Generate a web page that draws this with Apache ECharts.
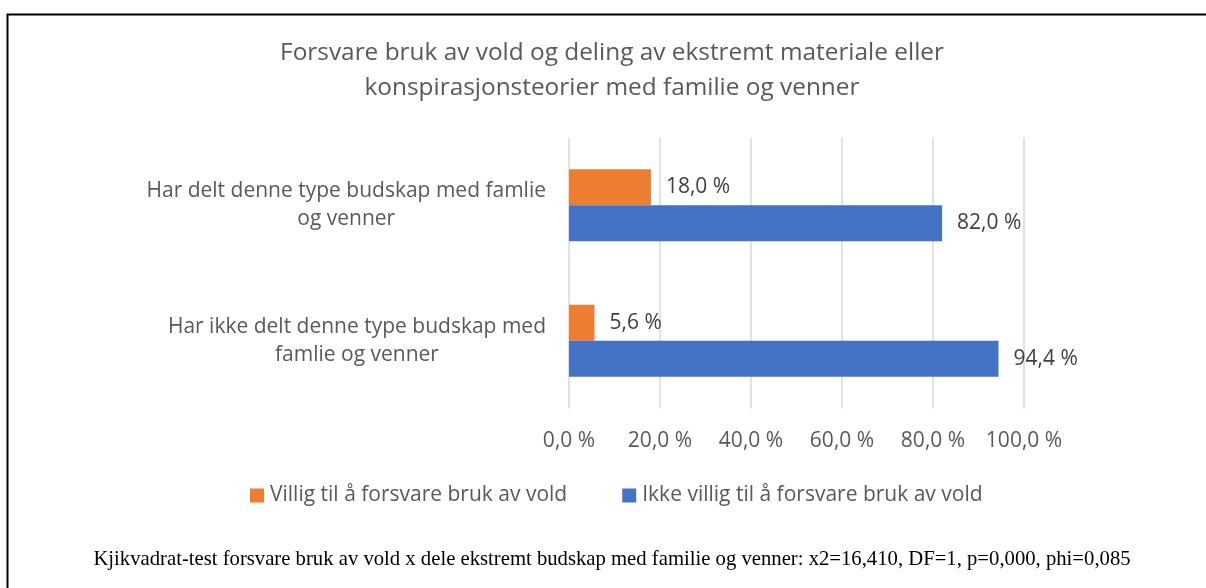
<!DOCTYPE html>
<html>
<head>
<meta charset="utf-8">
<script src="https://cdn.jsdelivr.net/npm/echarts@6/dist/echarts.min.js"></script>
<style>
  html, body { margin: 0; padding: 0; background: #fff; }
  #main { width: 1206px; height: 588px; }
</style>
</head>
<body>
<div id="main"></div>
<script>
// kategorier (linjeskift slik de vises)
const categories = [
  "Har delt denne type budskap med famlie\nog venner",
  "Har ikke delt denne type budskap med\nfamlie og venner"
];
const seriesNames = ["Villig til å forsvare bruk av vold", "Ikke villig til å forsvare bruk av vold"];
const villig = [18.0, 5.6];
const ikkeVillig = [82.0, 94.4];
const xTicks = [0, 20, 40, 60, 80, 100];

const fontSans = "'Open Sans', 'Noto Sans', sans-serif";
const pct = v => v.toFixed(1).replace(".", ",") + " %";

let myChart = echarts.init(document.getElementById("main"));

function barLabel() {
  return {
    show: true,
    position: "right",
    distance: 15,
    fontFamily: fontSans,
    fontSize: 21,
    color: "#404040",
    formatter: p => pct(p.value)
  };
}

let option = {
  backgroundColor: "#fff",
  animation: false,
  title: {
    text: "Forsvare bruk av vold og deling av ekstremt materiale eller\nkonspirasjonsteorier med familie og venner",
    left: 612,
    top: 36,
    padding: 0,
    textAlign: "center",
    textStyle: {
      fontFamily: fontSans,
      fontSize: 24.4,
      fontWeight: "normal",
      color: "#595959",
      lineHeight: 35
    }
  },
  legend: {
    data: seriesNames,
    left: 250,
    top: 485,
    padding: 0,
    itemWidth: 14,
    itemHeight: 14,
    itemGap: 55,
    icon: "rect",
    textStyle: { fontFamily: fontSans, fontSize: 21, color: "#595959", padding: [0, 0, 0, 1] }
  },
  grid: { left: 569, right: 182, top: 137.5, bottom: 179.5 },
  xAxis: {
    type: "value",
    min: 0,
    max: 100,
    interval: 20,
    axisLine: { show: false },
    axisTick: { show: false },
    splitLine: { lineStyle: { color: "#d9d9d9", width: 1.5 } },
    axisLabel: {
      margin: 22,
      fontFamily: fontSans,
      fontSize: 21,
      color: "#595959",
      formatter: v => (xTicks.indexOf(v) >= 0 ? pct(v) : "")
    }
  },
  yAxis: {
    type: "category",
    data: categories,
    inverse: true,
    axisLine: { show: false },
    axisTick: { show: false },
    axisLabel: {
      margin: 23,
      align: "right",
      fontFamily: fontSans,
      fontSize: 21,
      color: "#595959",
      lineHeight: 28,
      formatter: v => v.split("\n").map(s => "{c|" + s + "}").join("\n"),
      rich: {
        c: { align: "center", fontFamily: fontSans, fontSize: 21, color: "#595959", lineHeight: 28 }
      }
    }
  },
  series: [
    {
      name: seriesNames[0],
      type: "bar",
      data: villig,
      barGap: 0,
      barCategoryGap: "47%",
      itemStyle: { color: "#ED7D31" },
      label: barLabel()
    },
    {
      name: seriesNames[1],
      type: "bar",
      data: ikkeVillig,
      barGap: 0,
      barCategoryGap: "47%",
      itemStyle: { color: "#4472C4" },
      label: barLabel()
    }
  ],
  graphic: [
    {
      type: "rect",
      shape: { x: 7.5, y: 14.5, width: 1250, height: 650 },
      style: { fill: "none", stroke: "#000", lineWidth: 2 },
      silent: true
    },
    {
      type: "text",
      x: 612,
      y: 560,
      style: {
        text: "Kjikvadrat-test forsvare bruk av vold x dele ekstremt budskap med familie og venner: x2=16,410, DF=1, p=0,000, phi=0,085",
        fontFamily: "'Liberation Serif', 'DejaVu Serif', serif",
        fontSize: 20.7,
        align: "center",
        verticalAlign: "middle",
        fill: "#000"
      }
    }
  ]
};
myChart.setOption(option);
</script>
</body>
</html>
